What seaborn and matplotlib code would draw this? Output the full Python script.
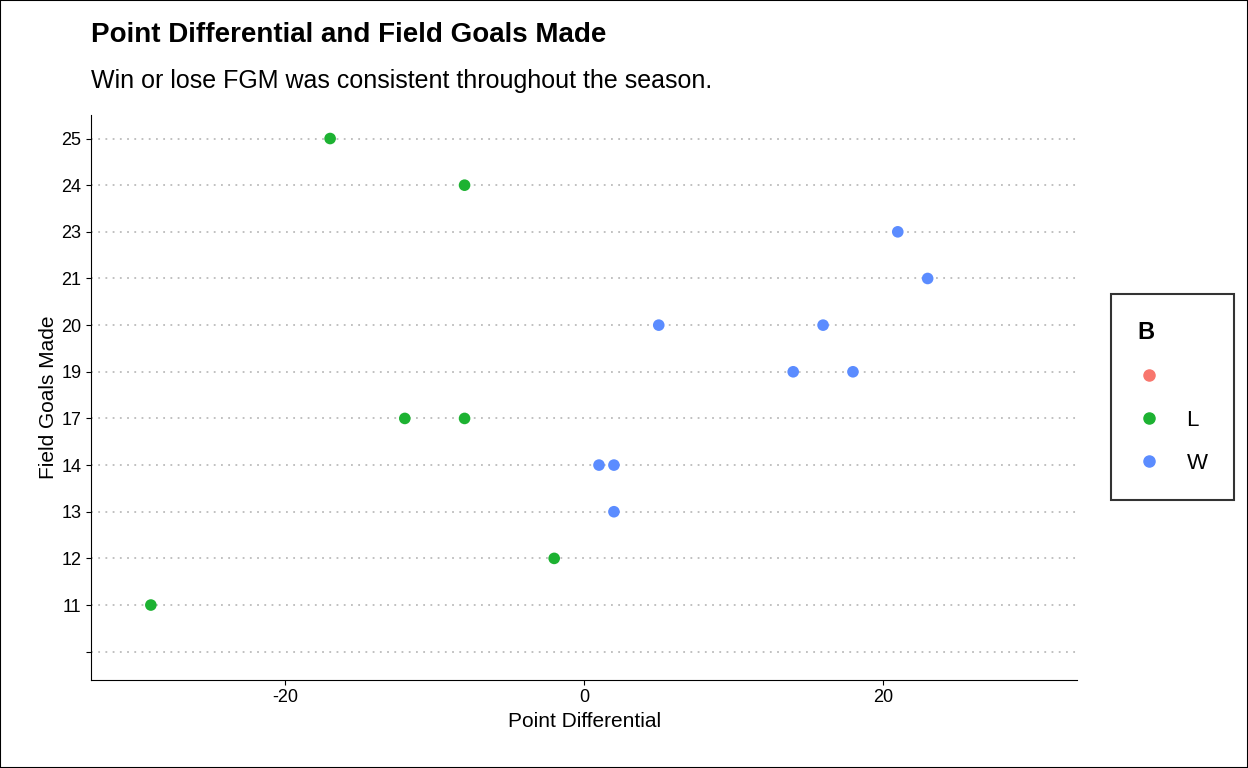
import pandas as pd
import matplotlib.pyplot as plt
from matplotlib.lines import Line2D
import seaborn as sns

# y categories, bottom to top ("" is the blank level)
fgm_levels = ["", "11", "12", "13", "14", "17", "19", "20", "21", "23", "24", "25"]

fgm = ["25", "24", "23", "21", "20", "20", "19", "19", "17", "17", "14", "14", "13", "12", "11"]
diff = [-17, -8, 21, 23, 5, 16, 14, 18, -12, -8, 1, 2, 2, -2, -29]
result = ["L", "L", "W", "W", "W", "W", "W", "W", "L", "L", "W", "W", "W", "L", "L"]

df = pd.DataFrame({"FGM": fgm, "Diff": diff, "B": result})
df["ypos"] = df["FGM"].map({k: i for i, k in enumerate(fgm_levels)})

plt.rcParams['font.family'] = ['Liberation Sans', 'DejaVu Sans']
plt.rcParams['axes.unicode_minus'] = False
fig, ax = plt.subplots(figsize=(12.48, 7.68), dpi=100)
fig.subplots_adjust(left=0.073, right=0.863, top=0.85, bottom=0.115)

for i in range(len(fgm_levels)):
    ax.axhline(i, color="#bbbbbb", linestyle=(0, (1, 3)), linewidth=1.3, zorder=0)

palette = {"": "#F8766D", "L": "#1DB232", "W": "#5B8CFF"}
sns.scatterplot(data=df, x="Diff", y="ypos", hue="B", hue_order=["L", "W"],
                palette=palette, s=70, edgecolor="none", ax=ax, zorder=3, legend=False)

ax.set_xlim(-33, 33)
ax.set_ylim(-0.6, len(fgm_levels) - 0.5)
ax.set_xticks([-20, 0, 20])
ax.set_yticks(range(len(fgm_levels)))
ax.set_yticklabels(fgm_levels)
ax.tick_params(labelsize=13)
ax.set_xlabel("Point Differential", fontsize=15)
ax.set_ylabel("Field Goals Made", fontsize=15, labelpad=2)
for s in ["top", "right"]:
    ax.spines[s].set_visible(False)

fig.text(0.073, 0.945, "Point Differential and Field Goals Made", fontsize=20, fontweight="bold")
fig.text(0.073, 0.885, "Win or lose FGM was consistent throughout the season.", fontsize=18)

handles = [Line2D([], [], marker="o", linestyle="", color=palette[k], markersize=8)
           for k in ["", "L", "W"]]
leg = ax.legend(handles, ["", "L", "W"], title="B", loc="center left",
                bbox_to_anchor=(1.03, 0.5), frameon=True,
                fontsize=16, title_fontproperties={"weight": "bold", "size": 17},
                borderpad=0.9, labelspacing=1.0, handletextpad=1.2, handlelength=1.0)
leg.get_frame().set_edgecolor("black")
leg.get_frame().set_linewidth(1.5)
leg.get_frame().set_boxstyle("square")
leg._legend_box.align = "left"

fig.patches.append(plt.Rectangle((0, 0), 1, 1, transform=fig.transFigure,
                                 fill=False, edgecolor="black", linewidth=1.5))
fig.savefig("out.png", dpi=100)
